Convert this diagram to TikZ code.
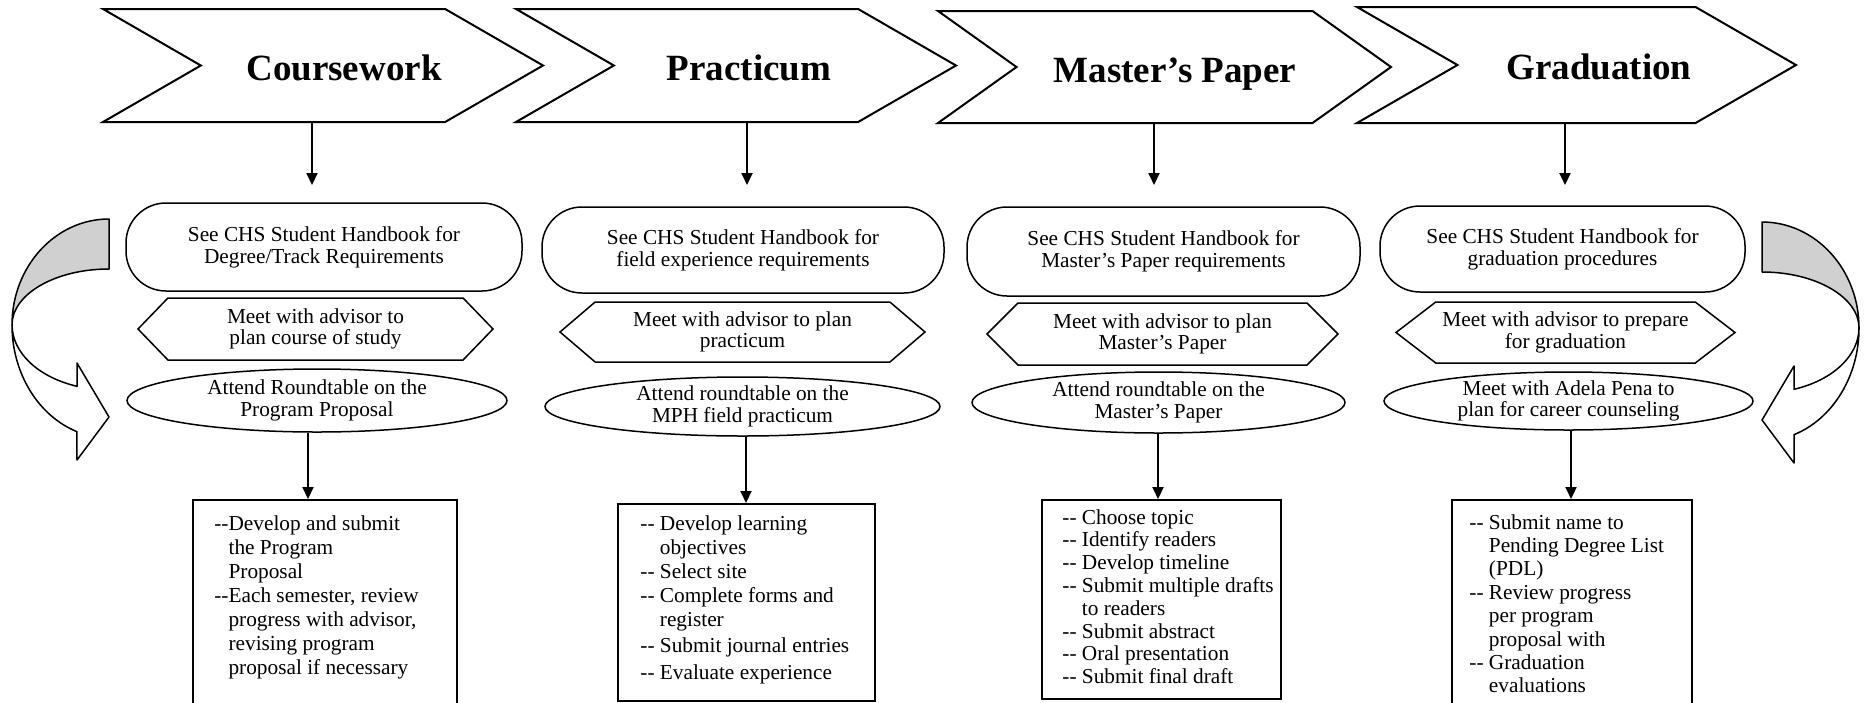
\documentclass[tikz,border=0pt]{standalone}
\usepackage{fontspec}
\setmainfont{Liberation Serif}
\usepackage{xcolor}
\usepackage{tikz}
\usetikzlibrary{arrows.meta,shapes.symbols,shapes.geometric}
\definecolor{inkline}{HTML}{000000}
\definecolor{bandgray}{HTML}{D0D0D0}

\begin{document}
\begin{tikzpicture}[
  x=0.5pt,
  y=-0.5pt,
  flow/.style={
    draw=inkline,
    line width=1pt,
    -{Triangle[length=6pt,width=5.5pt]}
  },
  band/.style={
    draw=inkline,
    line width=0.75pt,
    line join=round
  },
  every node/.style={
    align=center,
    inner sep=0pt,
    font=\fontsize{10.65}{10.8}\selectfont
  },
  stage/.style={
    signal,
    signal from=west,
    signal to=east,
    signal pointer angle=60,
    draw=inkline,
    line width=1pt,
    minimum width=220pt,
    minimum height=56.5pt
  },
  stagetitle/.style={
    anchor=base,
    font=\fontsize{18.5}{20}\selectfont\bfseries
  },
  guide/.style={
    rectangle,
    rounded corners=20pt,
    draw=inkline,
    line width=0.75pt,
    minimum height=44pt,
    execute at begin node={\rule{0pt}{18pt}}
  },
  meet/.style={
    signal,
    signal to=west and east,
    signal pointer angle=90,
    draw=inkline,
    line width=0.75pt,
    minimum height=31pt
  },
  roundtable/.style={
    ellipse,
    draw=inkline,
    line width=0.75pt,
    minimum height=30pt
  },
  taskbox/.style={
    rectangle,
    anchor=north west,
    draw=inkline,
    line width=0.75pt
  },
  tasklist/.style={
    anchor=north west,
    align=left,
    font=\fontsize{10.65}{12}\selectfont
  }
]

\path[use as bounding box] (0,0) rectangle (1866,702);
\clip (0,0) rectangle (1866,702);

% Stage banners
\node[stage] (cw) at (323,65.5) {};
\node[stage] (pr) at (736,65.5) {};
\node[stage, signal pointer angle=71, minimum width=226.5pt, minimum height=56pt] (mp) at (1164.5,67) {};
\node[stage, minimum width=219.5pt, minimum height=58pt] (gr) at (1576.5,65) {};

\node[stagetitle] (cwtitle) at (344,80) {Coursework};
\node[stagetitle] (prtitle) at (749,80) {Practicum};
\node[stagetitle] (mptitle) at (1175,82) {Master's Paper};
\node[stagetitle] (grtitle) at (1599,79) {Graduation};

% Handbook boxes
\node[guide, minimum width=198pt] (cwbook) at (324,247) {See CHS Student Handbook for\\Degree/Track Requirements};
\node[guide, minimum width=201pt, minimum height=43pt] (prbook) at (743,250) {See CHS Student Handbook for\\field experience requirements};
\node[guide, minimum width=196.5pt, minimum height=44.5pt] (mpbook) at (1163.5,251.5) {See CHS Student Handbook for\\Master's Paper requirements};
\node[guide, minimum width=182.5pt, minimum height=43pt] (grbook) at (1562.5,249) {See CHS Student Handbook for\\graduation procedures};

% Advisor meetings
\node[meet, minimum width=177.5pt, signal pointer angle=92] (cwmeet) at (315.5,329) {Meet with advisor to\\plan course of study};
\node[meet, minimum width=182.5pt, minimum height=30pt, signal pointer angle=81] (prmeet) at (742.5,332) {Meet with advisor to plan\\practicum};
\node[meet, minimum width=175.5pt] (mpmeet) at (1162.5,334) {Meet with advisor to plan\\Master's Paper};
\node[meet, minimum width=169.5pt, minimum height=30.5pt, signal pointer angle=75] (grmeet) at (1565.5,332.5) {Meet with advisor to prepare\\for graduation};

% Roundtables
\node[roundtable, minimum width=190pt, minimum height=31.5pt] (cwround) at (317,400.5) {Attend Roundtable on the\\Program Proposal};
\node[roundtable, minimum width=197.5pt, minimum height=29.5pt] (prround) at (742.5,406.5) {Attend roundtable on the\\MPH field practicum};
\node[roundtable, minimum width=186.5pt, minimum height=30.5pt] (mpround) at (1158.5,402.5) {Attend roundtable on the\\Master's Paper};
\node[roundtable, minimum width=184.5pt, minimum height=29pt] (grround) at (1568.5,401) {Meet with Adela Pena to\\plan for career counseling};

% Task boxes
\node[taskbox, minimum width=132pt, minimum height=110.5pt] (cwtask) at (192,499) {};
\node[taskbox, minimum width=128.5pt, minimum height=98.5pt] (prtask) at (617,503) {};
\node[taskbox, minimum width=119.5pt, minimum height=99.5pt] (mptask) at (1041,499) {};
\node[taskbox, minimum width=120pt, minimum height=110.5pt] (grtask) at (1451,499) {};

\node[tasklist] (cwlist) at (214,515) {-{}-Develop and submit\\
\hphantom{-{}-}the Program\\
\hphantom{-{}-}Proposal\\
-{}-Each semester, review\\
\hphantom{-{}-}progress with advisor,\\
\hphantom{-{}-}revising program\\
\hphantom{-{}-}proposal if necessary};

\node[tasklist] (prlist) at (640,515) {-{}- Develop learning\\
\hphantom{-{}-\ }objectives\\
-{}- Select site\\
-{}- Complete forms and\\
\hphantom{-{}-\ }register\\[1pt]
-{}- Submit journal entries\\[1.5pt]
-{}- Evaluate experience};

\node[tasklist, font=\fontsize{10.65}{11.4}\selectfont] (mplist) at (1062,509) {-{}- Choose topic\\
-{}- Identify readers\\
-{}- Develop timeline\\
-{}- Submit multiple drafts\\
\hphantom{-{}-\ }to readers\\
-{}- Submit abstract\\
-{}- Oral presentation\\
-{}- Submit final draft};

\node[tasklist, font=\fontsize{10.65}{11.7}\selectfont] (grlist) at (1469,514) {-{}- Submit name to\\
\hphantom{-{}-\ }Pending Degree List\\
\hphantom{-{}-\ }(PDL)\\
-{}- Review progress\\
\hphantom{-{}-\ }per program\\
\hphantom{-{}-\ }proposal with\\
-{}- Graduation\\
\hphantom{-{}-\ }evaluations};

% Drops from the banners
\coordinate (cwdrop) at (312,185);
\coordinate (prdrop) at (747,185);
\coordinate (mpdrop) at (1154,185);
\coordinate (grdrop) at (1565,185);
\draw[flow] (cwdrop |- cw.south) -- (cwdrop);
\draw[flow] (prdrop |- pr.south) -- (prdrop);
\draw[flow] (mpdrop |- mp.south) -- (mpdrop);
\draw[flow] (grdrop |- gr.south) -- (grdrop);

% Links down to the task boxes
\coordinate (cwlink) at (308,0);
\coordinate (prlink) at (746,0);
\coordinate (mplink) at (1158,0);
\coordinate (grlink) at (1571,0);
\draw[flow] (cwlink |- cwround.south) -- (cwlink |- cwtask.north);
\draw[flow] (prlink |- prround.south) -- (prlink |- prtask.north);
\draw[flow] (mplink |- mpround.south) -- (mplink |- mptask.north);
\draw[flow] (grlink |- grround.south) -- (grlink |- grtask.north);

% Return arrows
\begin{scope}[shift={(109,219)}]
  \filldraw[band, fill=white] (-97,106) arc[start angle=180, end angle=109.3, x radius=97, y radius=113]
    -- (-32,241) -- (0,198) -- (-32,144) -- (-32,167.3)
    arc[start angle=109.3, end angle=180, x radius=97, y radius=65] -- cycle;
  \filldraw[band, fill=bandgray] (0,0) arc[start angle=270, end angle=180, x radius=97, y radius=106]
    arc[start angle=180, end angle=270, x radius=97, y radius=56] -- cycle;
\end{scope}
\begin{scope}[shift={(1762,222)}, xscale=-1]
  \filldraw[band, fill=white] (-97,106) arc[start angle=180, end angle=109.3, x radius=97, y radius=113]
    -- (-32,241) -- (0,198) -- (-32,144) -- (-32,167.3)
    arc[start angle=109.3, end angle=180, x radius=97, y radius=65] -- cycle;
  \filldraw[band, fill=bandgray] (0,0) arc[start angle=270, end angle=180, x radius=97, y radius=106]
    arc[start angle=180, end angle=270, x radius=97, y radius=56] -- cycle;
\end{scope}

\end{tikzpicture}
\end{document}
